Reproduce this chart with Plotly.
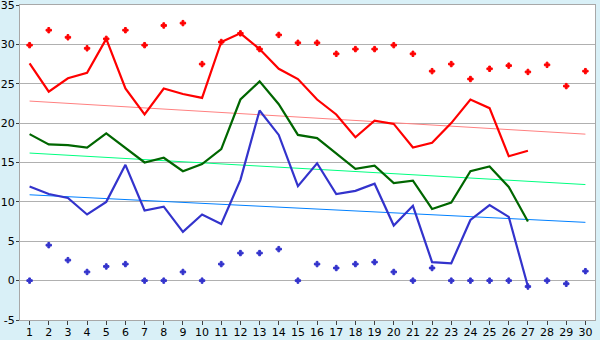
import plotly.graph_objects as go

days = list(range(1, 31))

max_line = [27.6, 24.0, 25.7, 26.4, 30.7, 24.4, 21.1, 24.4, 23.7, 23.2,
            30.3, 31.4, 29.4, 26.9, 25.6, 23.0, 21.1, 18.2, 20.3, 19.9,
            16.9, 17.5, 20.0, 23.0, 21.9, 15.8, 16.5]
mean_line = [18.6, 17.3, 17.2, 16.9, 18.7, 16.9, 15.0, 15.6, 13.9, 14.8,
             16.7, 23.0, 25.3, 22.4, 18.5, 18.1, 16.2, 14.2, 14.6, 12.4,
             12.7, 9.1, 9.9, 13.9, 14.5, 11.9, 7.5]
min_line = [11.95, 11.0, 10.5, 8.4, 10.0, 14.7, 8.9, 9.4, 6.2, 8.4,
            7.2, 12.8, 21.6, 18.5, 12.0, 14.9, 11.0, 11.4, 12.3, 7.0,
            9.5, 2.35, 2.2, 7.7, 9.6, 8.1, -0.75]
max_record = [29.9, 31.8, 30.9, 29.5, 30.7, 31.8, 29.9, 32.4, 32.7, 27.5,
              30.3, 31.4, 29.4, 31.2, 30.2, 30.2, 28.8, 29.4, 29.4, 29.9,
              28.8, 26.6, 27.5, 25.6, 26.9, 27.3, 26.5, 27.4, 24.7, 26.6]
min_record = [0, 4.5, 2.6, 1.1, 1.8, 2.1, 0, 0, 1.1, 0,
              2.1, 3.5, 3.5, 4.0, 0, 2.1, 1.6, 2.1, 2.35, 1.1,
              0, 1.6, 0, 0, 0, 0, -0.75, 0, -0.4, 1.2]
trend_days = [1, 30]
max_trend = [22.8, 18.6]
mean_trend = [16.2, 12.2]
min_trend = [10.9, 7.4]
y_ticks = [-5, 0, 5, 10, 15, 20, 25, 30, 35]

fig = go.Figure()

fig.add_trace(go.Scatter(x=trend_days, y=max_trend, mode="lines",
                         line=dict(color="#ff8080", width=1)))
fig.add_trace(go.Scatter(x=trend_days, y=mean_trend, mode="lines",
                         line=dict(color="#00ff80", width=1)))
fig.add_trace(go.Scatter(x=trend_days, y=min_trend, mode="lines",
                         line=dict(color="#0080ff", width=1)))

fig.add_trace(go.Scatter(x=days[:len(max_line)], y=max_line, mode="lines",
                         line=dict(color="#ff0000", width=2.2)))
fig.add_trace(go.Scatter(x=days[:len(mean_line)], y=mean_line, mode="lines",
                         line=dict(color="#006600", width=2.2)))
fig.add_trace(go.Scatter(x=days[:len(min_line)], y=min_line, mode="lines",
                         line=dict(color="#3333cc", width=2.2)))

fig.add_trace(go.Scatter(x=days, y=max_record, mode="markers",
                         marker=dict(symbol="cross", size=4.5, color="#ff0000",
                                     line=dict(width=1, color="#ff0000"))))
fig.add_trace(go.Scatter(x=days, y=min_record, mode="markers",
                         marker=dict(symbol="cross", size=4.5, color="#3333cc",
                                     line=dict(width=1, color="#3333cc"))))

axis_common = dict(showline=True, linecolor="#a8a8a8", linewidth=1, mirror=True,
                   ticks="outside", tickcolor="#404040", tickwidth=1,
                   tickfont=dict(family="DejaVu Sans", size=11, color="#000000"),
                   zeroline=False, automargin=False, ticklabeloverflow="allow")

fig.update_xaxes(range=[0.5, 30.5], tickmode="array", tickvals=days,
                 ticktext=[str(d) for d in days], showgrid=False, ticklen=4,
                 ticklabelstandoff=-2, **axis_common)
fig.update_yaxes(range=[-5, 35], tickmode="array", tickvals=y_ticks,
                 ticktext=[str(v) for v in y_ticks], showgrid=True, ticklen=3,
                 ticklabelstandoff=-1,
                 gridcolor="#b0b0b0", gridwidth=1, **axis_common)

fig.update_layout(width=600, height=340, showlegend=False,
                  margin=dict(l=20, r=5, t=5, b=20),
                  paper_bgcolor="#d9f0f7", plot_bgcolor="#ffffff")

fig.write_html("out.html")
